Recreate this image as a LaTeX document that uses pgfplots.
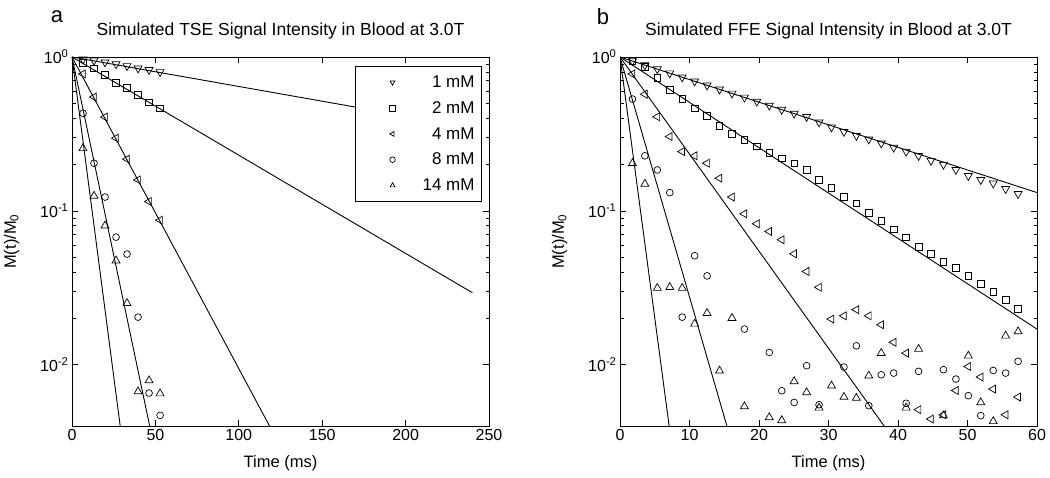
\documentclass[border=0pt]{standalone}
\usepackage{fontspec}
\setmainfont{Liberation Sans}
\usepackage{pgfplots}
\pgfplotsset{compat=1.18}
\pgfplotsset{
  legend image code/.code={\path[draw=none,fill=none] (-30pt,-3pt) rectangle (30pt,3pt); \draw[#1, mark size=2.8pt] plot coordinates {(0pt,0pt)};},
}
\pgfplotsset{
  mypanel/.style={
    scale only axis, width=417pt, height=369pt,
    ymin=0.004, ymax=1,
    axis line style={line width=0.9pt},
    every tick/.style={black, line width=0.7pt},
    major tick length=6pt, minor tick length=3.5pt,
    tick align=inside,
    ytick={0.01,0.1,1},
    yticklabels={10\textsuperscript{-2},10\textsuperscript{-1},10\textsuperscript{0}},
    tick label style={font=\fontsize{16}{18}\selectfont},
    xlabel style={font=\fontsize{16.5}{18}\selectfont, at={(axis description cs:0.5,-0.1)}, anchor=center},
    ylabel style={font=\fontsize{16.5}{18}\selectfont, at={(axis description cs:-0.145,0.5)}, anchor=center},
    title style={font=\fontsize{17.5}{19}\selectfont, at={(axis description cs:0.5,1)}, anchor=center, yshift=20pt},
    xlabel={Time (ms)},
    ylabel={M(t)/M\textsubscript{0}},
  },
  fitline/.style={black, line width=0.9pt, forget plot},
  mka/.style={black, only marks, mark=triangle, mark size=4.6pt, mark options={rotate=180, line width=0.7pt}},
  mkb/.style={black, only marks, mark=square, mark size=3.3pt, mark options={line width=0.7pt}},
  mkc/.style={black, only marks, mark=triangle, mark size=4.6pt, mark options={rotate=90, line width=0.7pt}},
  mkd/.style={black, only marks, mark=o, mark size=3.4pt, mark options={line width=0.7pt}},
  mke/.style={black, only marks, mark=triangle, mark size=4.6pt, mark options={line width=0.7pt}},
}
\begin{document}
\begin{tikzpicture}[x=1pt,y=1pt]
\useasboundingbox (0,0) rectangle (1050,478);
% ---------------- Panel a: TSE ----------------
\begin{axis}[ymode=log, mypanel, at={(72pt,52pt)}, anchor=south west,
  /pgf/number format/assume math mode=true,
  xmin=0, xmax=250, xtick={0,50,100,150,200,250},
  title={Simulated TSE Signal Intensity in Blood at 3.0T},
  legend cell align=right,
  legend style={at={(0.983,0.976)}, anchor=north east, draw=black, line width=0.8pt,
    font=\fontsize{17}{19}\selectfont, inner xsep=7pt, inner ysep=9.5pt, row sep=12.5pt,
    nodes={inner sep=0pt}},
]
\addplot[fitline] coordinates {(0,1) (240,0.347)};
\addplot[fitline] coordinates {(0,1) (240,0.0294)};
\addplot[fitline] coordinates {(0,1) (240,1.38e-5)};
\addplot[fitline] coordinates {(0,1) (100,7.1e-6)};
\addplot[fitline] coordinates {(0,1) (60,1.05e-5)};
\addplot[mka] coordinates {(6.6,0.965)(13.2,0.95)(19.8,0.925)(26.4,0.90)(33.0,0.875)(39.6,0.845)(46.2,0.825)(52.8,0.80)};
\addlegendentry{1 mM}
\addplot[mkb] coordinates {(6.6,0.92)(13.2,0.845)(19.8,0.764)(26.4,0.681)(33.0,0.628)(39.6,0.567)(46.2,0.506)(52.8,0.465)};
\addlegendentry{2 mM}
\addplot[mkc] coordinates {(6.6,0.776)(13.2,0.549)(19.8,0.407)(26.4,0.297)(33.0,0.217)(39.6,0.159)(46.2,0.115)(52.8,0.087)};
\addlegendentry{4 mM}
\addplot[mkd] coordinates {(6.6,0.431)(13.2,0.204)(19.8,0.123)(26.4,0.0675)(33.0,0.0524)(39.6,0.0204)(46.2,0.00655)(52.8,0.00469)};
\addlegendentry{8 mM}
\addplot[mke] coordinates {(6.6,0.255)(13.2,0.125)(19.8,0.080)(26.4,0.0475)(33.0,0.0251)(39.6,0.0067)(46.2,0.0079)(52.8,0.0065)};
\addlegendentry{14 mM}
\end{axis}
% ---------------- Panel b: FFE ----------------
\begin{axis}[ymode=log, mypanel, at={(620pt,52pt)}, anchor=south west,
  /pgf/number format/assume math mode=true,
  xmin=0, xmax=60, xtick={0,10,20,30,40,50,60},
  title={Simulated FFE Signal Intensity in Blood at 3.0T},
]
\addplot[fitline] coordinates {(0,1) (60,0.1315)};
\addplot[fitline] coordinates {(0,1) (60,0.01705)};
\addplot[fitline] coordinates {(0,1) (60,1.64e-4)};
\addplot[fitline] coordinates {(0,1) (30,2.1e-5)};
\addplot[fitline] coordinates {(0,1) (15,8.2e-6)};
\addplot[mka] coordinates {(1.79,0.941)(3.58,0.886)(5.37,0.834)(7.16,0.785)(8.95,0.739)(10.74,0.696)(12.53,0.655)(14.32,0.616)(16.11,0.580)(17.90,0.546)(19.69,0.514)(21.48,0.484)(23.27,0.455)(25.06,0.429)(26.85,0.409)(28.64,0.377)(30.43,0.350)(32.22,0.327)(34.01,0.308)(35.80,0.292)(37.59,0.275)(39.38,0.258)(41.17,0.243)(42.96,0.228)(44.75,0.212)(46.54,0.200)(48.33,0.185)(50.12,0.169)(51.91,0.159)(53.70,0.151)(55.49,0.139)(57.28,0.129)};
\addplot[mkb] coordinates {(1.79,0.944)(3.58,0.865)(5.37,0.735)(7.16,0.611)(8.95,0.533)(10.74,0.465)(12.53,0.414)(14.32,0.356)(16.11,0.316)(17.90,0.289)(19.69,0.262)(21.48,0.239)(23.27,0.220)(25.06,0.204)(26.85,0.1845)(28.64,0.1589)(30.43,0.1416)(32.22,0.1239)(34.01,0.1122)(35.80,0.0975)(37.59,0.0865)(39.38,0.0760)(41.17,0.0675)(42.96,0.0586)(44.75,0.0526)(46.54,0.0465)(48.33,0.0425)(50.12,0.0378)(51.91,0.0336)(53.70,0.0299)(55.49,0.0264)(57.28,0.0230)};
\addplot[mkc] coordinates {(1.79,0.776)(3.58,0.573)(5.37,0.409)(7.16,0.304)(8.95,0.243)(10.74,0.228)(12.53,0.204)(14.32,0.163)(16.11,0.123)(17.90,0.0957)(19.69,0.0824)(21.48,0.0735)(23.27,0.0649)(25.06,0.0526)(26.85,0.0404)(28.64,0.0319)(30.43,0.0198)(32.22,0.0208)(34.01,0.0228)(35.80,0.0208)(37.59,0.0182)(39.38,0.0140)(41.17,0.0119)(42.96,0.00511)(44.75,0.00444)(46.54,0.00473)(48.33,0.00681)(50.12,0.00975)(51.91,0.00832)(53.70,0.00695)(55.49,0.00473)(57.28,0.00617)};
\addplot[mkd] coordinates {(1.79,0.533)(3.58,0.228)(5.37,0.1845)(7.16,0.1315)(8.95,0.0204)(10.74,0.0511)(12.53,0.0378)(17.90,0.01706)(21.48,0.01202)(23.27,0.00678)(25.06,0.00569)(26.85,0.00986)(28.64,0.0055)(32.22,0.00966)(34.01,0.01327)(35.80,0.00542)(37.59,0.00861)(39.38,0.00883)(41.17,0.00562)(42.96,0.00906)(46.54,0.00929)(48.33,0.00807)(50.12,0.0063)(51.91,0.00467)(53.70,0.00918)(55.49,0.00883)(57.28,0.01052)};
\addplot[mke] coordinates {(1.79,0.204)(3.58,0.1496)(5.37,0.0315)(7.16,0.0319)(8.95,0.0315)(10.74,0.01845)(12.53,0.02163)(14.32,0.00914)(16.11,0.0201)(17.90,0.00536)(21.48,0.00455)(23.27,0.00435)(25.06,0.0078)(26.85,0.00661)(28.64,0.00525)(30.43,0.00731)(32.22,0.00617)(34.01,0.00608)(35.80,0.00849)(37.59,0.0119)(41.17,0.00525)(42.96,0.01265)(46.54,0.00468)(50.12,0.01143)(51.91,0.00569)(53.70,0.00429)(55.49,0.01542)(57.28,0.01644)};
\end{axis}
\node[font=\fontsize{22}{24}\selectfont] at (57,461) {a};
\node[font=\fontsize{22}{24}\selectfont] at (603,461) {b};
\end{tikzpicture}
\end{document}
